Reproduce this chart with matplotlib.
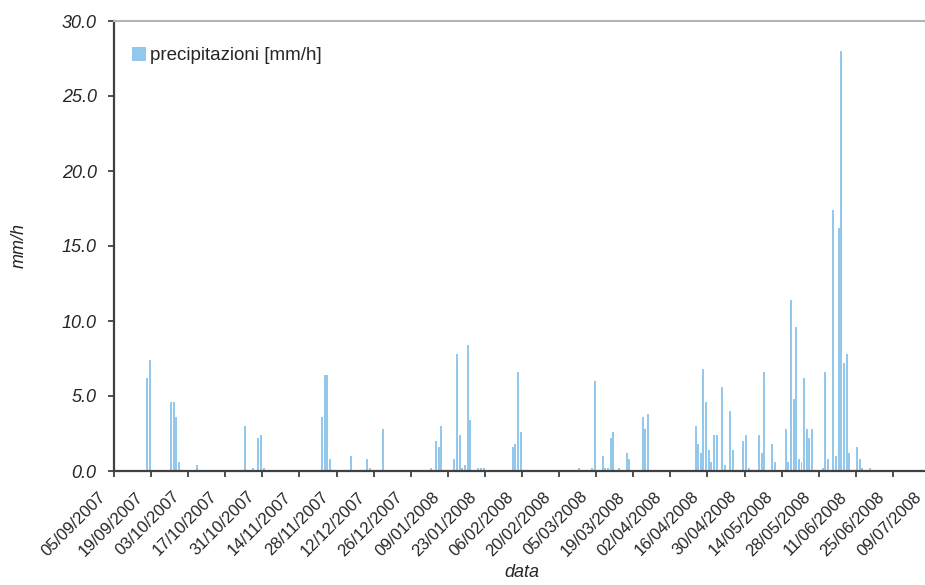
import numpy as np
import pandas as pd
import matplotlib
matplotlib.use("Agg")
import matplotlib.pyplot as plt
import matplotlib.transforms as mtransforms
from matplotlib.ticker import FormatStrFormatter

plt.rcParams['font.family'] = ['Liberation Sans', 'DejaVu Sans']

# daily maximum hourly rainfall, only the rainy days
giorni = [
    "17/09/2007", "18/09/2007", "26/09/2007", "27/09/2007", "28/09/2007", "29/09/2007",
    "06/10/2007", "24/10/2007", "27/10/2007", "29/10/2007", "30/10/2007", "31/10/2007",
    "22/11/2007", "23/11/2007", "24/11/2007", "25/11/2007",
    "03/12/2007", "09/12/2007", "10/12/2007", "15/12/2007",
    "02/01/2008", "04/01/2008", "05/01/2008", "06/01/2008", "11/01/2008", "12/01/2008",
    "13/01/2008", "14/01/2008", "15/01/2008", "16/01/2008", "17/01/2008", "20/01/2008",
    "21/01/2008", "22/01/2008",
    "02/02/2008", "03/02/2008", "04/02/2008", "05/02/2008", "27/02/2008",
    "03/03/2008", "04/03/2008", "07/03/2008", "08/03/2008", "09/03/2008", "10/03/2008",
    "11/03/2008", "13/03/2008", "16/03/2008", "17/03/2008", "22/03/2008", "23/03/2008",
    "24/03/2008",
    "11/04/2008", "12/04/2008", "13/04/2008", "14/04/2008", "15/04/2008", "16/04/2008",
    "17/04/2008", "18/04/2008", "19/04/2008", "21/04/2008", "22/04/2008", "24/04/2008",
    "25/04/2008", "29/04/2008", "30/04/2008",
    "01/05/2008", "05/05/2008", "06/05/2008", "07/05/2008", "10/05/2008", "11/05/2008",
    "15/05/2008", "16/05/2008", "17/05/2008", "18/05/2008", "19/05/2008", "20/05/2008",
    "21/05/2008", "22/05/2008", "23/05/2008", "24/05/2008", "25/05/2008", "29/05/2008",
    "30/05/2008", "31/05/2008",
    "02/06/2008", "03/06/2008", "04/06/2008", "05/06/2008", "06/06/2008", "07/06/2008",
    "08/06/2008", "11/06/2008", "12/06/2008", "13/06/2008", "16/06/2008",
]
pioggia = [
    6.2, 7.4, 4.6, 4.6, 3.6, 0.6,
    0.4, 3.0, 0.2, 2.2, 2.4, 0.2,
    3.6, 6.4, 6.4, 0.8,
    1.0, 0.8, 0.2, 2.8,
    0.2, 2.0, 1.6, 3.0, 0.8, 7.8,
    2.4, 0.2, 0.4, 8.4, 3.4, 0.2,
    0.2, 0.2,
    1.6, 1.8, 6.6, 2.6, 0.2,
    0.2, 6.0, 1.0, 0.2, 0.2, 2.2,
    2.6, 0.2, 1.2, 0.8, 3.6, 2.8,
    3.8,
    3.0, 1.8, 1.2, 6.8, 4.6, 1.4,
    0.6, 2.4, 2.4, 5.6, 0.4, 4.0,
    1.4, 2.0, 2.4,
    0.2, 2.4, 1.2, 6.6, 1.8, 0.6,
    2.8, 0.6, 11.4, 4.8, 9.6, 0.8,
    0.6, 6.2, 2.8, 2.2, 2.8, 0.2,
    6.6, 0.8,
    17.4, 1.0, 16.2, 28.0, 7.2, 7.8,
    1.2, 1.6, 0.8, 0.2, 0.2,
]

inizio = pd.Timestamp("2007-09-05")
fine = pd.Timestamp("2008-07-09")

date = pd.to_datetime(giorni, format="%d/%m/%Y")
tacche = pd.date_range(inizio, fine, freq='14D')

fig = plt.figure(figsize=(9.25, 5.85), dpi=100)
ax = fig.add_axes([114 / 925, 114 / 585, 816 / 925, 450 / 585])

# each bar sits in the middle of its day slot
ax.bar(date + pd.Timedelta(hours=12), pioggia, width=0.75,
       color='#92C8EC', label='precipitazioni [mm/h]', zorder=2)

ax.set_xlim(inizio, fine)
ax.set_ylim(0, 30)

ax.set_xticks(tacche)
ax.set_yticks(np.arange(0, 31, 5))
ax.yaxis.set_major_formatter(FormatStrFormatter('%.1f'))

testo = '#262626'
ax.tick_params(axis='x', length=4, width=1.3, color='#404040', labelbottom=False)
ax.tick_params(axis='y', length=4.5, width=1.3, color='#404040', labelsize=13,
               labelcolor=testo, pad=8)
for lab in ax.get_yticklabels():
    lab.set_style('italic')

# slanted date labels, ending just left of and below each tick
sposta = mtransforms.ScaledTranslation(-16 / 100, -18 / 100, fig.dpi_scale_trans)
for t in tacche:
    ax.text(t, 0, t.strftime('%d/%m/%Y'), transform=ax.get_xaxis_transform() + sposta,
            rotation=45, rotation_mode='anchor', ha='right', va='top',
            fontsize=12, color=testo, clip_on=False)

for lato in ['left', 'bottom']:
    ax.spines[lato].set_color('#404040')
    ax.spines[lato].set_linewidth(1.6)
for lato in ['top', 'right']:
    ax.spines[lato].set_color('#B4B4B4')
    ax.spines[lato].set_linewidth(1.5)

ax.set_xlabel('data', fontsize=13, style='italic', color=testo, va='top')
ax.xaxis.set_label_coords(0.5, -0.207)
ax.set_ylabel('mm/h', fontsize=13, style='italic', color=testo)
ax.yaxis.set_label_coords(-0.106, 0.5)

ax.legend(loc='upper left', bbox_to_anchor=(18 / 816, 424 / 450), frameon=False,
          fontsize=13.5, borderpad=0, borderaxespad=0, handlelength=0.75,
          handleheight=0.75, handletextpad=0.2, labelcolor=testo)

fig.savefig('out.png', dpi=100)
